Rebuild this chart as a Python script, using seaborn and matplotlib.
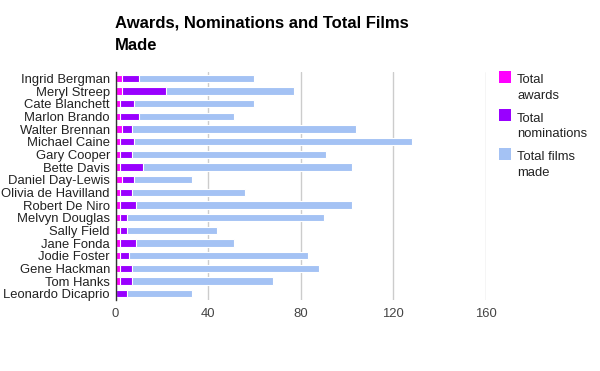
import matplotlib
matplotlib.use("Agg")
import matplotlib.pyplot as plt
import matplotlib.patches as mpatches
import numpy as np
import pandas as pd
import seaborn as sns

# Values
ACTORS = [
    "Ingrid Bergman", "Meryl Streep", "Cate Blanchett", "Marlon Brando",
    "Walter Brennan", "Michael Caine", "Gary Cooper", "Bette Davis",
    "Daniel Day-Lewis", "Olivia de Havilland", "Robert De Niro", "Melvyn Douglas",
    "Sally Field", "Jane Fonda", "Jodie Foster", "Gene Hackman",
    "Tom Hanks", "Leonardo Dicaprio",
]
AWARDS = [3, 3, 2, 2, 3, 2, 2, 2, 3, 2, 2, 2, 2, 2, 2, 2, 2, 0]
NOMINATIONS = [7, 19, 6, 8, 4, 6, 5, 10, 5, 5, 7, 3, 3, 7, 4, 5, 5, 5]
FILMS = [50, 55, 52, 41, 97, 120, 84, 90, 25, 49, 93, 85, 39, 42, 77, 81, 61, 28]

SERIES = ["Total\nawards", "Total\nnominations", "Total films\nmade"]
COLORS = ["#ff00ff", "#9900ff", "#a4c2f4"]
X_TICKS = [0, 40, 80, 120, 160]

FONT = ["Liberation Sans", "DejaVu Sans"]

sns.set_style("white")
plt.rcParams["font.family"] = FONT

df = pd.DataFrame({"actor": ACTORS, "awards": AWARDS, "noms": NOMINATIONS, "films": FILMS})
# Cumulative ends for stacking
df["end_awards"] = df["awards"]
df["end_noms"] = df["awards"] + df["noms"]
df["end_films"] = df["end_noms"] + df["films"]

fig = plt.figure(figsize=(6, 3.71), dpi=100)
ax = fig.add_axes([115.5 / 600, 1 - 300 / 371, (486 - 115.5) / 600, 228 / 371])

# Draw longest first so shorter stacks sit on top
for col, color in zip(["end_films", "end_noms", "end_awards"], COLORS[::-1]):
    sns.barplot(data=df, x=col, y="actor", color=color, width=0.6,
                edgecolor="white", linewidth=0.8, saturation=1, ax=ax)

ax.set_xlim(0, 160)
ax.set_xticks(X_TICKS)
ax.xaxis.grid(True, color="#cccccc", linewidth=1)
ax.set_axisbelow(True)
ax.set_xlabel("")
ax.set_ylabel("")
for side in ["top", "right", "bottom"]:
    ax.spines[side].set_visible(False)
ax.spines["left"].set_color("#333333")
ax.spines["left"].set_linewidth(1)
ax.spines["left"].set_zorder(5)
ax.tick_params(axis="both", length=0)
ax.tick_params(axis="y", pad=4, labelsize=9.4, labelcolor="#222222")
ax.tick_params(axis="x", pad=6, labelsize=9.4, labelcolor="#444444")

fig.text(115 / 600, 1 - 16 / 371, "Awards, Nominations and Total Films\nMade",
         fontsize=12, fontweight="bold", color="#000000", ha="left", va="top",
         linespacing=1.55)

# Legend: square beside the first line of each two-line label
for i, (label, color) in enumerate(zip(SERIES, COLORS)):
    top = 71 + i * 38.3
    fig.add_artist(mpatches.Rectangle((499 / 600, 1 - (top + 12) / 371), 12 / 600, 12 / 371,
                                      transform=fig.transFigure, facecolor=color,
                                      edgecolor="none"))
    # baseline of the last line
    fig.text(517 / 600, 1 - (top + 28) / 371, label, fontsize=9.4, color="#222222",
             ha="left", va="baseline", linespacing=1.4,
             transform=fig.transFigure)

fig.savefig("out.png", dpi=100)
